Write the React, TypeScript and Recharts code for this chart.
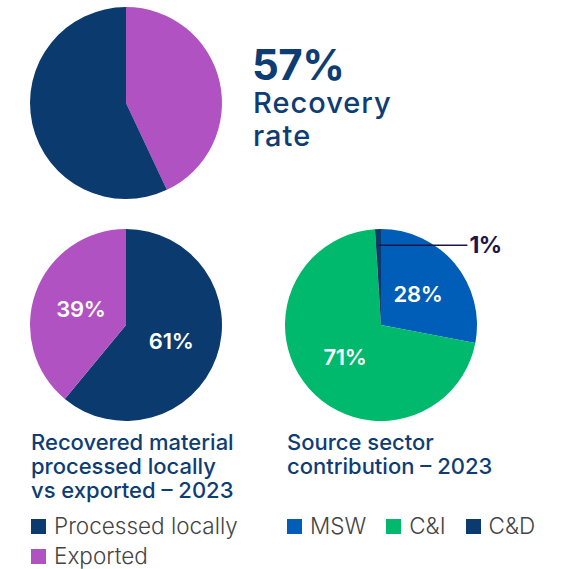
import React from 'react';
import { PieChart, Pie, Cell } from 'recharts';

// recovery rate (top pie)
const recoveryNames = ['Not recovered', 'Recovered'];
const recoveryValues = [43, 57];
const recoveryRate = '57%';

// processed locally vs exported – 2023
const destinationNames = ['Processed locally', 'Exported'];
const destinationValues = [61, 39];

// source sector contribution – 2023
const sectorNames = ['MSW', 'C&I', 'C&D'];
const sectorValues = [28, 71, 1];

const COLORS: Record<string, string> = {
  'Not recovered': '#B152C2',
  Recovered: '#0B3A6F',
  'Processed locally': '#0B3A6F',
  Exported: '#B152C2',
  MSW: '#005DB8',
  'C&I': '#00B96C',
  'C&D': '#0B3A6F'
};

const FONT = 'Inter, "Noto Sans", sans-serif';
const NAVY = '#0E3D74';
const RADIAN = Math.PI / 180;

const toData = (names: string[], values: number[]) =>
  names.map((name, i) => ({ name, value: values[i] }));

const recoveryData = toData(recoveryNames, recoveryValues);
const destinationData = toData(destinationNames, destinationValues);
const sectorData = toData(sectorNames, sectorValues);

const renderLabel = (props: any) => {
  const { cx, cy, midAngle, outerRadius, value, index } = props;
  if (value < 5) {
    // small slice: leader line out to the right
    const r = outerRadius * 0.83;
    const x = cx + r * Math.cos(-midAngle * RADIAN);
    const y = cy + r * Math.sin(-midAngle * RADIAN);
    const x2 = cx + outerRadius * 0.9;
    return (
      <g key={`lbl-${index}`}>
        <line x1={x} y1={y} x2={x2} y2={y} stroke="#201547" strokeWidth={1.5} />
        <text x={x2 + 2} y={y} fill="#201547" fontSize={23} fontWeight={700}
          fontFamily={FONT} dominantBaseline="central" letterSpacing={-0.5}>
          {`${value}%`}
        </text>
      </g>
    );
  }
  const r = outerRadius * 0.5;
  const x = cx + r * Math.cos(-midAngle * RADIAN);
  const y = cy + r * Math.sin(-midAngle * RADIAN);
  return (
    <text key={`lbl-${index}`} x={x} y={y} fill="#fff" fontSize={22} fontWeight={600}
      fontFamily={FONT} textAnchor="middle" dominantBaseline="central" letterSpacing={-0.3}>
      {`${value}%`}
    </text>
  );
};

const LegendItem = ({ name }: { name: string }) => (
  <div style={{ display: 'flex', alignItems: 'center', marginRight: 20 }}>
    <span style={{ width: 15, height: 15, background: COLORS[name], marginRight: 8 }} />
    <span>{name}</span>
  </div>
);

const App: React.FC = () => {
  const titleStyle: React.CSSProperties = {
    position: 'absolute',
    color: NAVY,
    fontSize: 22,
    fontWeight: 500,
    lineHeight: '24px',
    fontFamily: FONT
  };
  const legendStyle: React.CSSProperties = {
    position: 'absolute',
    color: '#444',
    fontSize: 22.5,
    fontWeight: 300,
    fontFamily: FONT,
    lineHeight: '30px'
  };
  const rateLine: React.CSSProperties = {
    position: 'absolute',
    left: 253,
    color: NAVY,
    fontFamily: FONT,
    fontSize: 29,
    fontWeight: 500,
    lineHeight: '30px',
    letterSpacing: 1
  };

  return (
    <div style={{ position: 'absolute', left: 0, top: 0, width: 566, height: 569, background: '#fff', fontFamily: FONT }}>
      <PieChart width={566} height={569} margin={{ top: 0, right: 0, bottom: 0, left: 0 }}
        style={{ position: 'absolute', left: 0, top: 0 }}>
        <Pie data={recoveryData} dataKey="value" cx={126} cy={103} outerRadius={96}
          startAngle={90} endAngle={-270} stroke="none" isAnimationActive={false}>
          {recoveryData.map((d, i) => <Cell key={`r-${i}`} fill={COLORS[d.name]} />)}
        </Pie>
        <Pie data={destinationData} dataKey="value" cx={126} cy={325} outerRadius={96}
          startAngle={90} endAngle={-270} stroke="none" isAnimationActive={false}
          label={renderLabel} labelLine={false}>
          {destinationData.map((d, i) => <Cell key={`d-${i}`} fill={COLORS[d.name]} />)}
        </Pie>
        <Pie data={sectorData} dataKey="value" cx={381} cy={325} outerRadius={96}
          startAngle={90} endAngle={-270} stroke="none" isAnimationActive={false}
          label={renderLabel} labelLine={false}>
          {sectorData.map((d, i) => <Cell key={`s-${i}`} fill={COLORS[d.name]} />)}
        </Pie>
      </PieChart>

      <div style={{ position: 'absolute', left: 252, top: 42, color: NAVY, fontFamily: FONT,
        fontSize: 42, fontWeight: 700, lineHeight: '46px', letterSpacing: -0.5 }}>
        {recoveryRate}
      </div>
      <div style={{ ...rateLine, top: 88 }}>Recovery</div>
      <div style={{ ...rateLine, top: 121 }}>rate</div>

      <div style={{ ...titleStyle, left: 31, top: 430 }}>
        Recovered material<br />processed locally<br />vs exported – 2023
      </div>
      <div style={{ ...titleStyle, left: 287, top: 430 }}>
        Source sector<br />contribution – 2023
      </div>

      <div style={{ ...legendStyle, left: 31, top: 511 }}>
        {destinationNames.map((n) => <LegendItem key={n} name={n} />)}
      </div>
      <div style={{ ...legendStyle, left: 287, top: 511, display: 'flex' }}>
        {sectorNames.map((n) => <LegendItem key={n} name={n} />)}
      </div>
    </div>
  );
};

export default App;
